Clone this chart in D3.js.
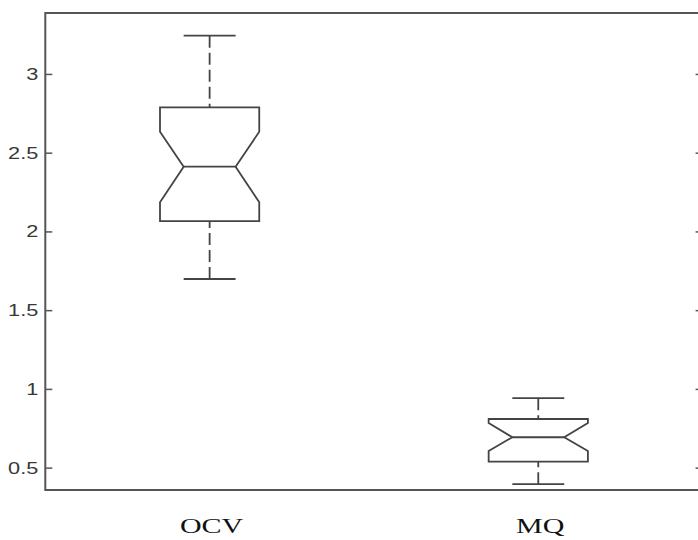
<!DOCTYPE html>
<html>
<head>
<meta charset="utf-8">
<script src="https://cdn.jsdelivr.net/npm/d3@7"></script>
<style>
  html, body { margin: 0; padding: 0; background: #fff; }
</style>
</head>
<body>
<div id="chart"></div>
<script>
const width = 698;
const height = 540;

// values
const categories = ["OCV", "MQ"];
const upperWhisker = [3.243, 0.941];
const q3 = [2.788, 0.809];
const notchHigh = [2.633, 0.784];
const median = [2.411, 0.693];
const notchLow = [2.185, 0.606];
const q1 = [2.066, 0.538];
const lowerWhisker = [1.698, 0.395];
const yTicks = [0.5, 1, 1.5, 2, 2.5, 3];

const boxes = categories.map((c, i) => ({
    name: c,
    pos: i + 1,
    hi: upperWhisker[i],
    q3: q3[i],
    nHi: notchHigh[i],
    med: median[i],
    nLo: notchLow[i],
    q1: q1[i],
    lo: lowerWhisker[i]
}));

const svg = d3.select("#chart")
    .append("svg")
    .attr("width", width)
    .attr("height", height);

const x = d3.scaleLinear()
    .domain([0.5, 2.5])
    .range([45.3, 702.6]);

const y = d3.scaleLinear()
    .domain([0.358, 3.387])
    .range([490, 13]);

const boxHalf = 0.151;
const notchHalf = 0.079;
const frameColor = "#555";
const lineColor = "#444";

// tick marks on both sides, pointing inward
const leftAxis = svg.append("g")
    .attr("transform", `translate(${x(0.5)},0)`)
    .call(d3.axisLeft(y).tickValues(yTicks).tickSize(-7).tickPadding(7).tickFormat(d3.format("")));

leftAxis.select(".domain").remove();
leftAxis.selectAll("line").attr("stroke", frameColor).attr("stroke-width", 1.5);
leftAxis.selectAll("text")
    .attr("x", 0)
    .attr("transform", "translate(-7,0) scale(1.28,1)")
    .style("font-family", "'Liberation Sans', Arial, sans-serif")
    .style("font-size", "17px")
    .attr("fill", "#383838");

const rightAxis = svg.append("g")
    .attr("transform", `translate(${x(2.5)},0)`)
    .call(d3.axisRight(y).tickValues(yTicks).tickSize(-7).tickFormat(""));

rightAxis.select(".domain").remove();
rightAxis.selectAll("line").attr("stroke", frameColor).attr("stroke-width", 1.5);

// frame
svg.append("rect")
    .attr("x", x(0.5))
    .attr("y", y(3.387))
    .attr("width", x(2.5) - x(0.5))
    .attr("height", y(0.358) - y(3.387))
    .attr("fill", "none")
    .attr("stroke", frameColor)
    .attr("stroke-width", 2);

const g = svg.append("g")
    .attr("fill", "none")
    .attr("stroke", lineColor)
    .attr("stroke-width", 1.8);

boxes.forEach(b => {
    // notched box outline
    const pts = [
        [b.pos - boxHalf, b.q3],
        [b.pos + boxHalf, b.q3],
        [b.pos + boxHalf, b.nHi],
        [b.pos + notchHalf, b.med],
        [b.pos + boxHalf, b.nLo],
        [b.pos + boxHalf, b.q1],
        [b.pos - boxHalf, b.q1],
        [b.pos - boxHalf, b.nLo],
        [b.pos - notchHalf, b.med],
        [b.pos - boxHalf, b.nHi]
    ];
    g.append("path")
        .attr("d", d3.line().x(d => x(d[0])).y(d => y(d[1]))(pts) + "Z");

    // median
    g.append("line")
        .attr("x1", x(b.pos - notchHalf))
        .attr("x2", x(b.pos + notchHalf))
        .attr("y1", y(b.med))
        .attr("y2", y(b.med));

    // whiskers, dashed from cap toward box
    [[b.hi, b.q3], [b.lo, b.q1]].forEach(([w, edge]) => {
        g.append("line")
            .attr("x1", x(b.pos))
            .attr("x2", x(b.pos))
            .attr("y1", y(w))
            .attr("y2", y(edge))
            .attr("stroke-dasharray", "12,5");
        g.append("line")
            .attr("x1", x(b.pos - notchHalf))
            .attr("x2", x(b.pos + notchHalf))
            .attr("y1", y(w))
            .attr("y2", y(w));
    });
});

// category labels
svg.selectAll(".cat-label")
    .data(boxes)
    .enter()
    .append("text")
    .attr("class", "cat-label")
    .attr("text-anchor", "middle")
    .attr("transform", d => `translate(${x(d.pos) + 2},533) scale(1.5,1)`)
    .style("font-family", "'Liberation Serif', 'Times New Roman', serif")
    .style("font-size", "20px")
    .attr("fill", "#111")
    .text(d => d.name);
</script>
</body>
</html>
